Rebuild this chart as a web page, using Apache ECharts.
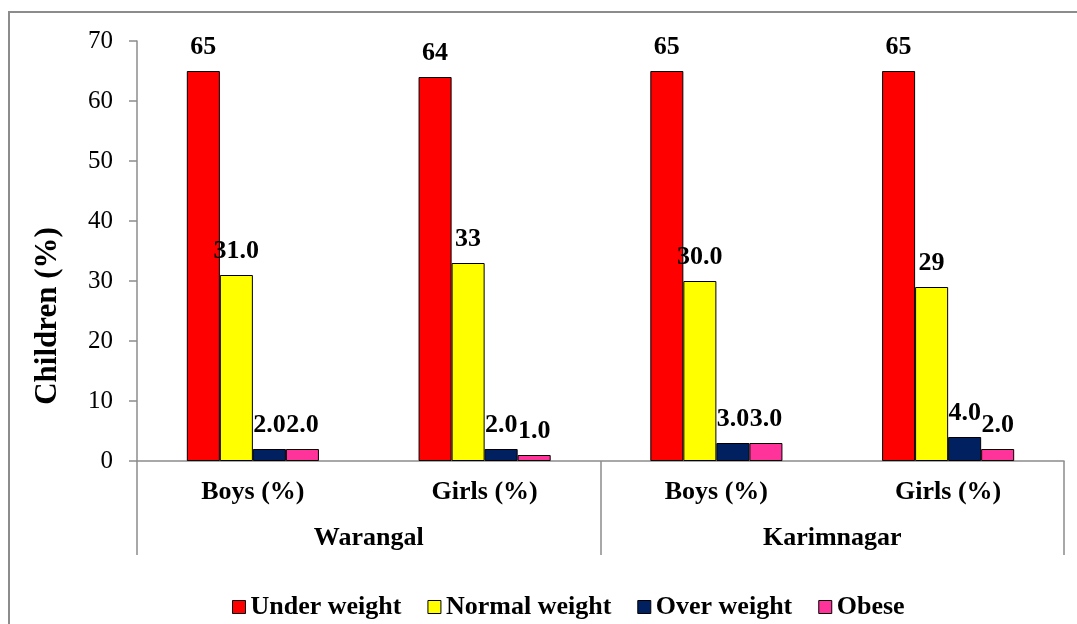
<!DOCTYPE html>
<html>
<head>
<meta charset="utf-8">
<script src="https://cdn.jsdelivr.net/npm/echarts@6/dist/echarts.min.js"></script>
<style>
html,body{margin:0;padding:0;background:#fff}
#chart{width:1077px;height:624px}
</style>
</head>
<body>
<div id="chart"></div>
<script>
var groups=['Boys (%)','Girls (%)','Boys (%)','Girls (%)']
var districts=['Warangal','Karimnagar']
var yTicks=[0,10,20,30,40,50,60,70]

var underWeight=[65,64,65,65]
var normalWeight=[31,33,30,29]
var overWeight=[2,2,3,4]
var obese=[2,1,3,2]

var underLabels=['65','64','65','65']
var normalLabels=['31.0','33','30.0','29']
var overLabels=['2.0','2.0','3.0','4.0']
var obeseLabels=['2.0','1.0','3.0','2.0']

var font='"Liberation Serif","Times New Roman",serif'
var gray='#8c8c8c'

var makeSeries=function(name,data,labels,color){
    return {
        name:name,
        type:'bar',
        data:data,
        barGap:0,
        barCategoryGap:'43%',
        itemStyle:{color:color,borderColor:'#000',borderWidth:1},
        label:{
            show:true,
            position:'top',
            distance:11,
            fontFamily:font,
            fontWeight:'bold',
            fontSize:26,
            color:'#000',
            formatter:function(p){return labels[p.dataIndex]}
        }
    }
}

var chart=echarts.init(document.getElementById('chart'))
chart.setOption({
    backgroundColor:'#fff',
    animation:false,
    graphic:[{
        type:'rect',
        shape:{x:9,y:12,width:1100,height:640},
        style:{fill:'none',stroke:gray,lineWidth:2},
        silent:true
    },{
        // y axis title sits lower than the plot middle in the original
        type:'text',
        x:48,
        y:316,
        rotation:Math.PI/2,
        style:{
            text:'Children (%)',
            fontFamily:font,
            fontWeight:'bold',
            fontSize:31,
            fill:'#000',
            align:'center',
            verticalAlign:'middle'
        },
        silent:true
    }],
    grid:{left:137,right:13,top:41,bottom:163},
    legend:{
        top:594,
        left:232,
        padding:0,
        itemWidth:13,
        itemHeight:13,
        itemGap:26,
        icon:'rect',
        textStyle:{fontFamily:font,fontWeight:'bold',fontSize:26,color:'#000',padding:[0,0,0,0]},
        itemStyle:{borderColor:'#000',borderWidth:1}
    },
    xAxis:[{
        type:'category',
        data:groups,
        position:'bottom',
        axisLine:{lineStyle:{color:gray,width:1.5}},
        axisTick:{show:false},
        axisLabel:{fontFamily:font,fontWeight:'bold',fontSize:26,color:'#000',margin:18}
    },{
        type:'category',
        data:districts,
        position:'bottom',
        gridIndex:0,
        axisLine:{show:false},
        axisTick:{show:true,length:94,lineStyle:{color:gray,width:1.5}},
        axisLabel:{fontFamily:font,fontWeight:'bold',fontSize:26,color:'#000',margin:64}
    }],
    yAxis:{
        type:'value',
        min:yTicks[0],
        max:yTicks[yTicks.length-1],
        interval:10,
        axisLine:{show:true,lineStyle:{color:gray,width:1.5}},
        axisTick:{show:true,length:8,lineStyle:{color:gray,width:1.5}},
        splitLine:{show:false},
        axisLabel:{fontFamily:font,fontSize:25,color:'#000',margin:24}
    },
    series:[
        makeSeries('Under weight',underWeight,underLabels,'#ff0000'),
        makeSeries('Normal weight',normalWeight,normalLabels,'#ffff00'),
        makeSeries('Over weight',overWeight,overLabels,'#002060'),
        makeSeries('Obese',obese,obeseLabels,'#ff3399')
    ]
})
</script>
</body>
</html>
